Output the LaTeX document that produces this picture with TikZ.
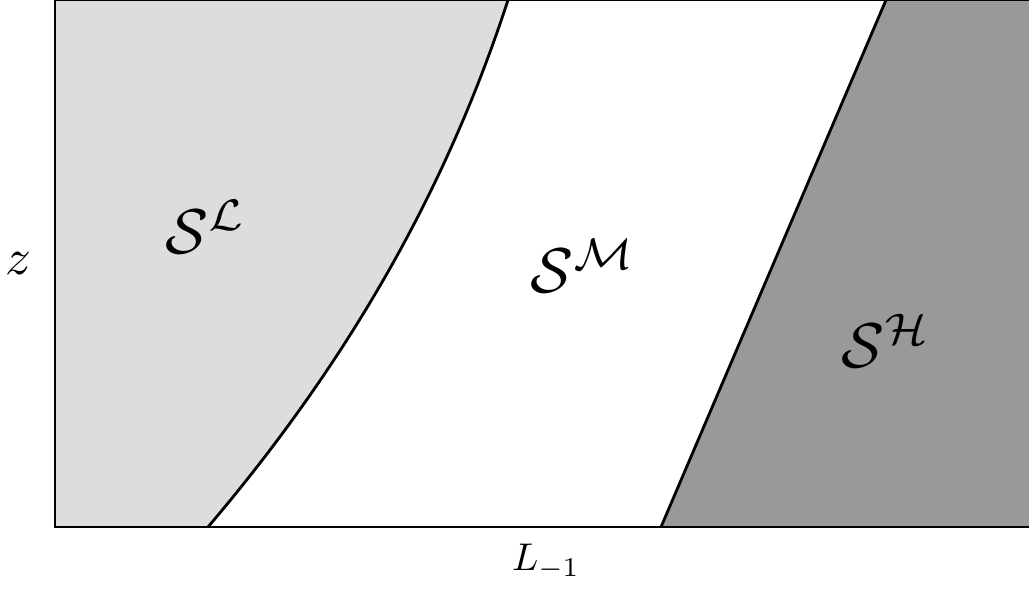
\documentclass[tikz,border=0pt]{standalone}
\begin{document}
\begin{tikzpicture}[x=0.02cm,y=-0.02cm,
  region/.style={line width=1.6pt, line join=round},
  frame/.style={line width=1.1pt},
  biglabel/.style={scale=3.6},
  axlabel/.style={scale=2.9},
  xlabel/.style={scale=2.2}]
\useasboundingbox (0,0) rectangle (1029,593);
% corner coordinates
\coordinate (lt) at (508,0);
\coordinate (lb) at (208,527);
\coordinate (ht) at (886,0);
\coordinate (hb) at (661,527);
% regions
\fill[fill={rgb,255:red,221;green,221;blue,221}] (55,527) -- (55,0) -- (lt)
  .. controls (452,172) and (361,347) .. (lb) -- cycle;
\fill[fill={rgb,255:red,153;green,153;blue,153}] (ht) -- (1040,0) -- (1040,527) -- (hb) -- cycle;
% boundaries
\draw[region] (lt) .. controls (452,172) and (361,347) .. (lb);
\draw[region] (hb) -- (ht);
% frame
\draw[frame] (1040,527) -- (55,527) -- (55,0) -- (1040,0);
% labels
\node[biglabel] (sl) at (206,227) {$\mathcal{S}^{\mathcal{L}}$};
\node[biglabel] (sm) at (583,266) {$\mathcal{S}^{\mathcal{M}}$};
\node[biglabel] (sh) at (886,341) {$\mathcal{S}^{\mathcal{H}}$};
\node[axlabel] (z) at (18,264) {$z$};
\node[xlabel] (L) at (546,562) {$L_{-1}$};
\end{tikzpicture}
\end{document}
